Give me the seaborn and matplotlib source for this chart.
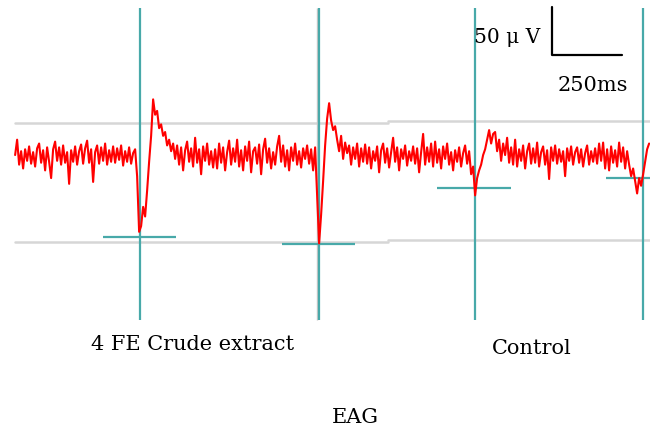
import matplotlib.pyplot as plt
import seaborn as sns
import numpy as np

# EAG trace, uV relative to baseline, sampled every 250/35 ms
trace_start_ms = 54.0
trace_dt_ms = 250 / 35
trace_uv = [
    2, 18, -8, 6, -12, 8, -4, 11, -7, 5,
    -10, 9, 14, -6, 7, -14, 10, -5, -22, 8,
    16, -4, 10, -8, 12, -6, 5, -28, 7, -5,
    11, -8, 6, 13, -7, 9, 17, -6, 8, -26,
    5, 12, -7, 10, -4, 14, -8, 7, -5, 11,
    -6, 9, -3, 12, -9, 6, -5, 10, -7, 4,
    8, -20, -78, -72, -52, -62, -35, -5, 22, 60,
    44, 48, 30, 34, 22, 26, 12, 18, 6, 14,
    -2, 12, -8, 10, -14, 7, 16, -5, 9, -10,
    20, -6, 8, -18, 11, -4, 14, -8, 6, -11,
    8, -12, 14, -6, 10, -14, 5, 17, -8, 9,
    -5, 18, -10, 7, -14, 11, -4, 16, -16, 6,
    10, -7, 13, -18, 8, 19, -6, 9, -12, 5,
    -8, 11, 22, -5, 12, -10, 7, -14, 10, -4,
    14, -8, 6, -11, 9, -2, 12, -7, 8, -14,
    10, -40, -90, -60, -25, 12, 40, 56, 38, 28,
    32, 18, 6, 22, -2, 15, 4, 12, -8, 10,
    -2, 14, -10, 9, -5, 13, -7, 10, -12, 6,
    -4, 11, -16, 7, 14, -6, 9, -11, 5, 20,
    -5, 10, -14, 8, -2, 12, -9, 6, -4, 11,
    -7, 9, -16, 5, 24, -8, 10, -5, 14, -10,
    16, -6, 8, -12, 11, -2, 14, -8, 5, -14,
    7, -5, 10, -10, 4, 12, -7, 6, -18, -10,
    -40, -22, -14, -8, 2, 8, 18, 28, 14, 24,
    26, 6, 18, -4, 14, 2, 20, -6, 10, -8,
    18, -10, 8, -4, 12, -12, 6, 14, -7, 9,
    -6, 15, -10, 5, 11, -8, 7, -23, 10, -4,
    12, -7, 8, -5, 6, -20, 9, -4, 11, -8,
    5, 10, -6, 8, -10, 4, 12, -8, 6, -5,
    9, -7, 14, -4, 15, -12, 8, -14, 11, -6,
    7, -10, 15, -5, 10, -12, 6, -8, -20, -12,
    -25, -38, -22, -30, -18, -5, 8, 14,
]

# stimulus onsets (ms) and response minimum markers
stim_ms = [500, 1139, 1696, 2296]
marker_left_ms = [368, 1007, 1561, 2164]
marker_right_ms = [629, 1268, 1825, 2321]
marker_uv = [-83, -91, -32, -22]

# gray reference levels (uV), two recording windows
ref_start_ms = [54, 1386]
ref_end_ms = [1386, 2321]
ref_top_uv = [35, 37]
ref_bottom_uv = [-89, -87]

labels = ["4 FE Crude extract", "Control"]
label_ms = [686, 1900]
label_uv = [-195, -200]

t = trace_start_ms + trace_dt_ms * np.arange(len(trace_uv))

sns.set_style("white")
plt.rcParams["font.family"] = ["DejaVu Serif"]
plt.rcParams["text.color"] = "black"

fig = plt.figure(figsize=(6.5, 4.3), dpi=100)
ax = fig.add_axes([0, 0, 1, 1])

teal = "#48a9a9"
for s, e, top, bot in zip(ref_start_ms, ref_end_ms, ref_top_uv, ref_bottom_uv):
    ax.plot([s, e], [top, top], color="#d6d6d6", lw=1.8, zorder=1)
    ax.plot([s, e], [bot, bot], color="#d6d6d6", lw=1.8, zorder=1)

ax.vlines(stim_ms, -170, 155, color=teal, lw=1.6, zorder=2)
ax.vlines([stim_ms[1] - 6], -170, 155, color="#c8c8c8", lw=1.0, zorder=1)
ax.hlines(marker_uv, marker_left_ms, marker_right_ms, color=teal, lw=1.6, zorder=2)

sns.lineplot(x=t, y=trace_uv, color="#ff0000", lw=1.5, ax=ax, zorder=3)

# scale bar: 50 uV / 250 ms
ax.plot([1971, 1971, 2221], [156, 106, 106], color="black", lw=1.6)
ax.text(1930, 124, "50 μ V", ha="right", va="center", fontsize=14.5)
ax.text(2118, 74, "250ms", ha="center", va="center", fontsize=15)

for lab, x, y in zip(labels, label_ms, label_uv):
    ax.text(x, y, lab, ha="center", va="center", fontsize=15)
ax.text(1268, -271, "EAG", ha="center", va="center", fontsize=15)

ax.set_xlim(0, 650 * 250 / 70)
ax.set_ylim(-284.4, 163.5)
ax.axis("off")

plt.savefig("out.png", dpi=100)
